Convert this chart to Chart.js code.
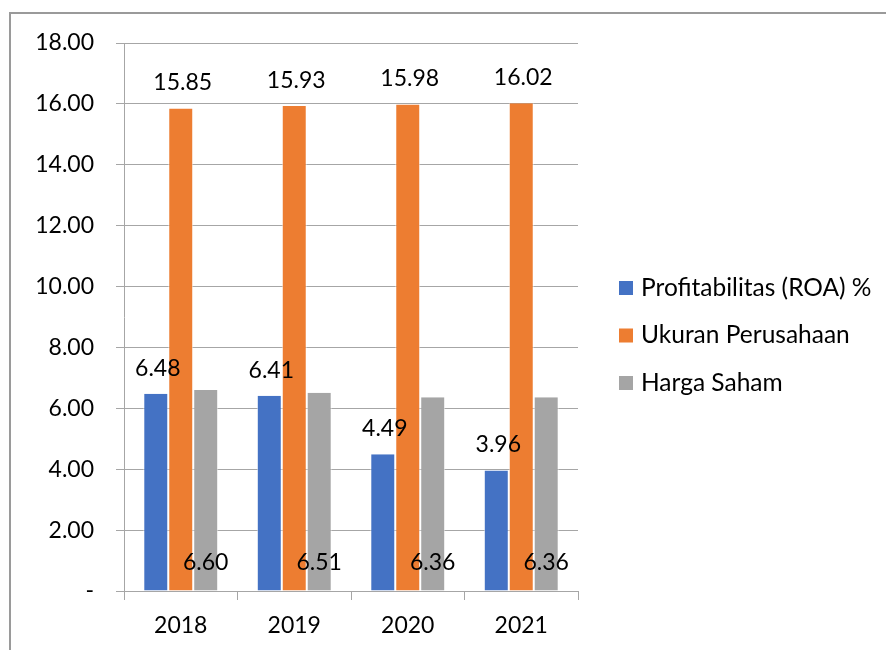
<!DOCTYPE html>
<html>
<head>
<meta charset="utf-8">
<script src="https://cdn.jsdelivr.net/npm/chart.js@4/dist/chart.umd.min.js"></script>
<style>
  html, body { margin: 0; padding: 0; background: #fff; }
  #wrap { position: relative; width: 886px; height: 650px; }
</style>
</head>
<body>
<div id="wrap"><canvas id="myChart" width="886" height="650"></canvas></div>
<script>
// data
const years = ["2018", "2019", "2020", "2021"];
const roa = [6.48, 6.41, 4.49, 3.96];
const ukuran = [15.85, 15.93, 15.98, 16.02];
const harga = [6.60, 6.51, 6.36, 6.36];
const seriesNames = ["Profitabilitas (ROA) %", "Ukuran Perusahaan", "Harga Saham"];

const FONT = "Lato, Carlito, Calibri, sans-serif";
const gridColor = "#a6a6a6";

// value labels on the bars
const barLabels = {
  id: "barLabels",
  afterDatasetsDraw(chart) {
    const c = chart.ctx;
    c.save();
    c.font = "23px " + FONT;
    c.fillStyle = "#000";
    c.textAlign = "center";
    chart.data.datasets.forEach((ds, i) => {
      const meta = chart.getDatasetMeta(i);
      meta.data.forEach((bar, j) => {
        const txt = ds.data[j].toFixed(2);
        if (i === 2) {
          c.textBaseline = "middle";
          c.fillText(txt, bar.x, bar.base - 28);
        } else {
          c.textBaseline = "alphabetic";
          c.fillText(txt, bar.x + 2, bar.y - 18);
        }
      });
    });
    c.restore();
  },
};

// outer frame + legend on the right
const frameLegend = {
  id: "frameLegend",
  afterDraw(chart) {
    const c = chart.ctx;
    c.save();
    c.strokeStyle = "#9a9a9a";
    c.lineWidth = 2;
    c.beginPath();
    c.moveTo(886, 13);
    c.lineTo(10, 13);
    c.lineTo(10, 650);
    c.stroke();

    c.font = "24.5px " + FONT;
    c.textBaseline = "middle";
    c.textAlign = "left";
    chart.data.datasets.forEach((ds, i) => {
      const y = 288 + i * 47.5;
      c.fillStyle = ds.backgroundColor;
      c.fillRect(619, y - 7, 14, 14);
      c.fillStyle = "#000";
      c.fillText(ds.label, 641, y);
    });
    c.restore();
  },
};

const ctx = document.getElementById("myChart").getContext("2d");
const myChart = new Chart(ctx, {
  type: "bar",
  data: {
    labels: years,
    datasets: [
      { label: seriesNames[0], data: roa, backgroundColor: "#4472C4" },
      { label: seriesNames[1], data: ukuran, backgroundColor: "#ED7D31" },
      { label: seriesNames[2], data: harga, backgroundColor: "#A5A5A5" },
    ],
  },
  options: {
    responsive: false,
    animation: false,
    devicePixelRatio: 1,
    layout: { padding: { top: 43, right: 308, left: 0, bottom: 0 } },
    datasets: {
      bar: {
        barPercentage: 1,
        categoryPercentage: 0.66,
        borderWidth: { left: 1, right: 1, top: 0, bottom: 0 },
        borderColor: "rgba(255,255,255,0.6)",
      },
    },
    plugins: {
      legend: { display: false },
      tooltip: { enabled: false },
    },
    scales: {
      x: {
        afterFit(scale) { scale.height = 59; },
        grid: {
          offset: true,
          drawOnChartArea: false,
          drawTicks: true,
          tickLength: 9,
          color: gridColor,
        },
        border: { color: gridColor, width: 1 },
        ticks: { color: "#000", font: { family: FONT, size: 23 }, padding: 12 },
      },
      y: {
        min: 0,
        max: 18,
        afterFit(scale) { scale.width = 124; },
        grid: { color: gridColor, tickLength: 8, lineWidth: 1 },
        border: { color: gridColor, width: 1 },
        ticks: {
          stepSize: 2,
          color: "#000",
          padding: 22,
          font: { family: FONT, size: 23 },
          callback: (v) => (v === 0 ? "-" : v.toFixed(2)),
        },
      },
    },
  },
  plugins: [barLabels, frameLegend],
});
</script>
</body>
</html>
